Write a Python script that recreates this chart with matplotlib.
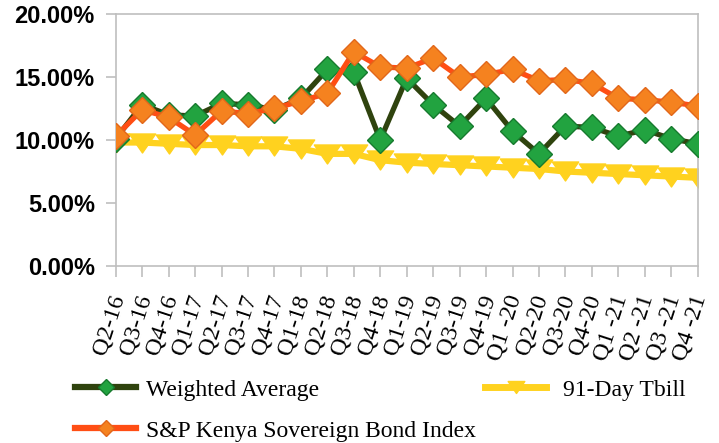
import matplotlib
matplotlib.use("Agg")
import matplotlib.pyplot as plt
from matplotlib.path import Path
from matplotlib.lines import Line2D
from matplotlib.transforms import ScaledTranslation

quarters = ["Q2-16", "Q3-16", "Q4-16", "Q1-17", "Q2-17", "Q3-17", "Q4-17",
            "Q1-18", "Q2-18", "Q3-18", "Q4-18", "Q1-19", "Q2-19", "Q3-19",
            "Q4-19", "Q1 -20", "Q2-20", "Q3-20", "Q4-20", "Q1 -21", "Q2 -21",
            "Q3 -21", "Q4 -21"]

weighted_avg = [10.1, 12.8, 12.0, 11.9, 12.9, 12.8, 12.4, 13.3, 15.6, 15.4,
                10.0, 14.9, 12.8, 11.1, 13.3, 10.7, 8.9, 11.1, 11.0, 10.3,
                10.8, 10.1, 9.7]
sp_index = [10.3, 12.4, 11.8, 10.4, 12.3, 12.1, 12.5, 13.1, 13.7, 17.0,
            15.8, 15.7, 16.5, 15.0, 15.2, 15.6, 14.7, 14.8, 14.5, 13.3,
            13.2, 13.0, 12.7]
tbill_91 = [9.8, 9.8, 9.7, 9.6, 9.6, 9.5, 9.5, 9.3, 8.9, 8.9,
            8.4, 8.2, 8.1, 8.0, 7.9, 7.8, 7.7, 7.5, 7.4, 7.3,
            7.2, 7.1, 7.0]

y_ticks = [0, 5, 10, 15, 20]
y_tick_labels = ["0.00%", "5.00%", "10.00%", "15.00%", "20.00%"]

serif = ["Liberation Serif", "DejaVu Serif"]
sans = ["Liberation Sans", "DejaVu Sans"]

fig = plt.figure(figsize=(7.19, 4.43), dpi=100)
ax = fig.add_axes([0.1609, 0.3996, 0.9704 - 0.1609, 0.9684 - 0.3996])

x = list(range(len(quarters)))

tri = Path([(-1.0, 0.72), (1.0, 0.72), (0.0, -0.72), (-1.0, 0.72)],
           [Path.MOVETO, Path.LINETO, Path.LINETO, Path.CLOSEPOLY])

wa_color = "#2F430E"
sp_color = "#FF4E14"
tb_color = "#FFD21F"

ax.plot(x, tbill_91, color=tb_color, lw=4.5, marker=tri, ms=19,
        mfc=tb_color, mec=tb_color, zorder=2)
ax.plot(x, weighted_avg, color=wa_color, lw=3.8, marker="D", ms=13.5,
        mfc="#22A340", mec="#167A2E", mew=1.0, zorder=3)
ax.plot(x, sp_index, color=sp_color, lw=3.8, marker="D", ms=13.5,
        mfc="#F5821F", mec="#E2671A", mew=1.0, zorder=4)

ax.set_xlim(0, len(quarters) - 1)
ax.set_ylim(0, 20)
ax.set_yticks(y_ticks)
ax.set_yticklabels(y_tick_labels, fontfamily=sans, fontweight="bold", fontsize=17)
ax.set_xticks(x)
ax.set_xticklabels(quarters, fontfamily=serif, fontsize=17.5, rotation=72,
                   ha="right", va="center", rotation_mode="anchor")

for s in ax.spines.values():
    s.set_color("#BFBFBF")
    s.set_linewidth(1.2)

ax.tick_params(axis="y", length=7, width=1.2, color="#BFBFBF", pad=8)
ax.tick_params(axis="x", length=8, width=1.2, color="#BFBFBF", pad=13)

offset = ScaledTranslation(3 / 100, 0, fig.dpi_scale_trans)
for lab in ax.get_xticklabels():
    lab.set_transform(lab.get_transform() + offset)

h_wa = Line2D([], [], color=wa_color, lw=4.5, marker="D", ms=8,
              mfc="#22A340", mec="#167A2E")
h_sp = Line2D([], [], color=sp_color, lw=4.5, marker="D", ms=8,
              mfc="#F5821F", mec="#E2671A")
h_tb = Line2D([], [], color=tb_color, lw=5, marker=tri, ms=12,
              mfc=tb_color, mec=tb_color)

leg_kw = dict(frameon=False, prop={"family": serif, "size": 17},
              handlelength=2.6, handletextpad=0.4, borderpad=0,
              borderaxespad=0, labelspacing=0.83, loc="upper left")
fig.legend([h_wa, h_sp], ["Weighted Average", "S&P Kenya Sovereign Bond Index"],
           bbox_to_anchor=(75 / 719, 1 - 379 / 443), **leg_kw)
fig.legend([h_tb], ["91-Day Tbill"],
           bbox_to_anchor=(485 / 719, 1 - 379 / 443),
           **{**leg_kw, "handletextpad": 0.7})

fig.savefig("out.png", dpi=100)
